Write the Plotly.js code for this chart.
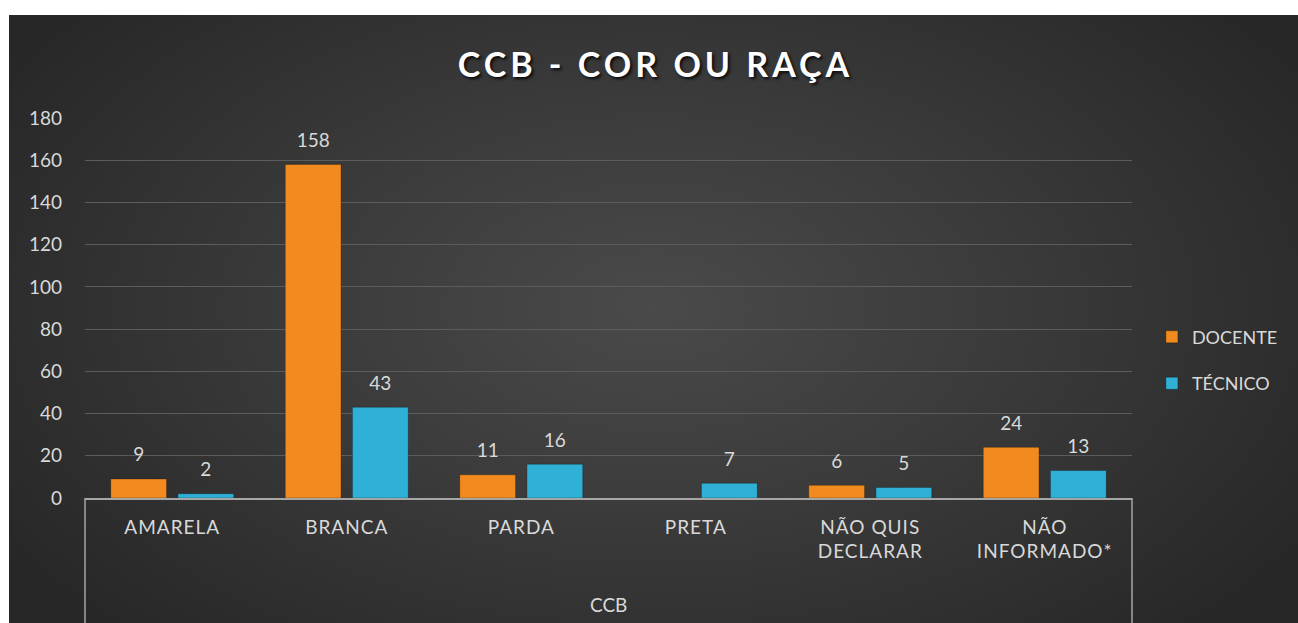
<!DOCTYPE html>
<html>
<head>
<meta charset="utf-8">
<script src="https://cdn.plot.ly/plotly-3.0.1.min.js"></script>
<style>
  html, body { margin: 0; padding: 0; background: #ffffff; }
  #bg { position: absolute; left: 9px; top: 15px; width: 1289px; height: 608px;
        background: radial-gradient(ellipse 60% 75% at 50% 48%, #4a4a4a 0%, #3b3b3b 45%, #272727 100%); }
  #chart { position: absolute; left: 0; top: 0; width: 1298px; height: 623px; }
  .gtitle { letter-spacing: 4px; }
  .xtick text { letter-spacing: 1px; }
</style>
</head>
<body>
<div id="bg"></div>
<div id="chart"></div>
<script>
// ---- data ----
var categories = ["AMARELA", "BRANCA", "PARDA", "PRETA", "NÃO QUIS DECLARAR", "NÃO INFORMADO*"];
var tickLabels = ["AMARELA", "BRANCA", "PARDA", "PRETA", "NÃO QUIS<br>DECLARAR", "NÃO<br>INFORMADO*"];
var docente = [9, 158, 11, null, 6, 24];
var tecnico = [2, 43, 16, 7, 5, 13];
var seriesNames = ["DOCENTE", "TÉCNICO"];
var groupLabel = "CCB";
var chartTitle = "CCB - COR OU RAÇA";

var orange = "#f18b1f";
var teal = "#2fb1d7";
var labelColor = "#d9d9d9";
var fontFamily = "Lato, 'Open Sans', sans-serif";

function barTrace(vals, name, color, grp) {
  return {
    type: "bar", x: categories, y: vals, name: name,
    marker: { color: color, line: { color: "rgba(0,0,0,0.25)", width: 1 } },
    legendgroup: grp, offsetgroup: grp, hoverinfo: "x+y+name"
  };
}
function labelTrace(vals, grp) {
  return {
    type: "scatter", mode: "markers+text", x: categories, y: vals,
    text: vals.map(function (v) { return v === null ? "" : String(v); }),
    textposition: "top center",
    textfont: { color: labelColor, size: 19, family: fontFamily },
    marker: { size: 19, color: "rgba(0,0,0,0)" },
    showlegend: false, hoverinfo: "skip", offsetgroup: grp, legendgroup: grp
  };
}

var data = [
  barTrace(docente, seriesNames[0], orange, "a"),
  barTrace(tecnico, seriesNames[1], teal, "b"),
  labelTrace(docente, "a"),
  labelTrace(tecnico, "b")
];

var axisLineColor = "#a6a6a6";
var layout = {
  width: 1298, height: 623,
  margin: { l: 85, r: 166, t: 118, b: 125, pad: 0 },
  paper_bgcolor: "rgba(0,0,0,0)",
  plot_bgcolor: "rgba(0,0,0,0)",
  font: { family: fontFamily, color: labelColor, size: 19 },
  title: {
    text: chartTitle,
    x: 0.505, xanchor: "center", xref: "container",
    y: 1 - 65 / 623, yanchor: "middle", yref: "container",
    font: { family: fontFamily, size: 34, color: "#ffffff", weight: "bold",
            shadow: "2px 2px 3px rgba(0,0,0,0.8)" }
  },
  barmode: "group", bargap: 0.23, bargroupgap: 0.17,
  scattermode: "group", scattergap: 0.23,
  xaxis: {
    type: "category",
    tickvals: categories, ticktext: tickLabels,
    showgrid: false, zeroline: false,
    showline: true, linecolor: axisLineColor, linewidth: 1.5,
    ticks: "", ticklabelstandoff: 11,
    tickfont: { size: 19, color: labelColor, family: fontFamily },
    fixedrange: true
  },
  yaxis: {
    range: [0, 180], dtick: 20, tick0: 0,
    showgrid: true, gridcolor: "#5c5c5c", gridwidth: 1,
    zeroline: false, showline: false,
    ticks: "", ticklabelstandoff: 22,
    tickfont: { size: 19, color: labelColor, family: fontFamily },
    fixedrange: true
  },
  legend: {
    x: 1.019, xanchor: "left", y: 0.472, yanchor: "top",
    traceorder: "grouped", tracegroupgap: 20,
    font: { size: 18, color: labelColor, family: fontFamily },
    bgcolor: "rgba(0,0,0,0)", itemclick: false, itemdoubleclick: false
  },
  shapes: [
    { type: "line", xref: "paper", yref: "paper", x0: 0, x1: 0, y0: 0, y1: -0.34,
      line: { color: axisLineColor, width: 1.5 } },
    { type: "line", xref: "paper", yref: "paper", x0: 1, x1: 1, y0: 0, y1: -0.34,
      line: { color: axisLineColor, width: 1.5 } }
  ],
  annotations: [
    { text: groupLabel, xref: "paper", yref: "paper", x: 0.5, y: -(604 - 498) / 380,
      xanchor: "center", yanchor: "middle", showarrow: false,
      font: { size: 19, color: labelColor, family: fontFamily } }
  ],
  showlegend: true
};

Plotly.newPlot("chart", data, layout, { displayModeBar: false, staticPlot: false });
</script>
</body>
</html>
